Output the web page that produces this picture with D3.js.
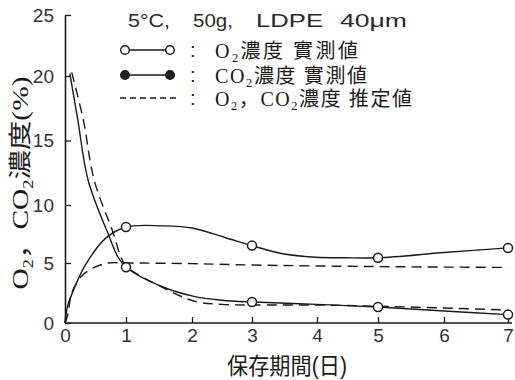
<!DOCTYPE html>
<html>
<head>
<meta charset="utf-8">
<script src="https://cdn.jsdelivr.net/npm/d3@7"></script>
<style>
  body { margin: 0; background: #fff; }
  svg { display: block; }
</style>
</head>
<body>
<svg id="chart" width="515" height="380"></svg>
<script>
// O2 / CO2 concentration in package, 5°C, 50g, LDPE 40um

var xTicks = [0, 1, 2, 3, 4, 5, 6, 7];
var yTicks = [0, 5, 10, 15, 20, 25];

// measured points (days 1,3,5,7)
var measuredDays = [1, 3, 5, 7];
var o2Measured = [4.65, 1.75, 1.33, 0.7];
var co2Measured = [8.1, 6.5, 5.45, 6.3];

var o2CurveDays = [0.08, 0.21, 0.38, 0.7, 0.87, 1, 1.56, 2.05, 2.5, 3, 4, 5, 6, 7];
var o2CurveVals = [20.2, 16.6, 11.9, 7.6, 5.5, 4.65, 3.0, 2.2, 1.9, 1.75, 1.55, 1.33, 1.0, 0.7];
var co2CurveDays = [0, 0.04, 0.14, 0.33, 0.66, 1, 1.56, 2.02, 2.55, 3, 3.47, 3.98, 4.46, 5, 6, 7];
var co2CurveVals = [0, 1.35, 2.75, 4.8, 7.1, 8.1, 8.2, 8.0, 7.2, 6.5, 5.8, 5.5, 5.45, 5.45, 5.9, 6.3];

// estimated values (dashed)
var o2EstDays = [0.11, 0.3, 0.48, 0.79, 0.91, 1, 1.56, 2.05, 2.5, 3, 4, 5, 6, 7];
var o2EstVals = [20.3, 16.6, 11.9, 7.6, 5.6, 4.75, 2.95, 1.8, 1.55, 1.5, 1.5, 1.4, 1.25, 1.08];
var co2EstDays = [0, 0.05, 0.11, 0.27, 0.49, 0.71, 1, 2, 3, 5, 7];
var co2EstVals = [0, 0.8, 2.5, 3.9, 4.65, 5.0, 5.0, 4.95, 4.83, 4.7, 4.63];

var titleParts = ["5°C,", "50g,", "LDPE", "40μm"];
var legendLabels = ["O₂濃度 實測値", "CO₂濃度 實測値", "O₂，CO₂濃度 推定値"];
var xLabel = "保存期間(日)";
var yLabel = "O₂，CO₂濃度(%)";

var ink = "#1a1a1a";
var serifCJK = "'Liberation Serif', 'Noto Sans CJK JP', serif";
var sansCJK = "'Liberation Sans', 'Noto Sans CJK JP', sans-serif";

var svg = d3.select("#chart");

// the figure's hand-drawn axes are slightly uneven, so map to the tick positions
var x = d3.scaleLinear().domain(xTicks).range([65, 126, 192, 252, 317, 378, 444, 508]);
var y = d3.scaleLinear().domain([0, 5, 10, 20, 25]).range([323, 263, 205, 76, 15]);

// put text with "₂" subscripts into a text element
var richText = function (sel, str, size) {
  var chunks = str.split("₂");
  var shift = size * 0.22;
  chunks.forEach(function (c, i) {
    if (i > 0) {
      sel.append("tspan").attr("font-size", size * 0.62).attr("dy", shift).text("2");
      sel.append("tspan").attr("dy", -shift).text(c);
    } else {
      sel.append("tspan").text(c);
    }
  });
  return sel;
};

///////////////////////////////////////////////////////////////////////////////
// Axes

var xAxis = d3.axisBottom(x).tickValues(xTicks).tickSizeInner(-6).tickSizeOuter(0)
  .tickPadding(6).tickFormat(d3.format("d"));
var yAxis = d3.axisLeft(y).tickValues(yTicks).tickSizeInner(-6).tickSizeOuter(0)
  .tickPadding(11).tickFormat(d3.format("d"));

var gx = svg.append("g").attr("transform", "translate(0," + y(0) + ")").call(xAxis);
var gy = svg.append("g").attr("transform", "translate(" + x(0) + ",0)").call(yAxis);

[gx, gy].forEach(function (g) {
  g.select(".domain").attr("stroke", ink).attr("stroke-width", 1.6);
  g.selectAll(".tick line").attr("stroke", ink).attr("stroke-width", 1.3);
  g.selectAll(".tick text").attr("fill", "#333")
    .attr("font-family", "'Liberation Sans', Arial, sans-serif").attr("font-size", 19);
});
gx.select(".domain").attr("d", "M" + x(0) + ",0H512");

///////////////////////////////////////////////////////////////////////////////
// Curves

var line = d3.line()
  .x(function (d) { return x(d[0]); })
  .y(function (d) { return y(d[1]); })
  .curve(d3.curveCatmullRom.alpha(0.5));

var curves = [
  {days: o2EstDays, vals: o2EstVals, dash: "10,6"},
  {days: co2EstDays, vals: co2EstVals, dash: "10,6"},
  {days: o2CurveDays, vals: o2CurveVals, dash: null},
  {days: co2CurveDays, vals: co2CurveVals, dash: null}
];

svg.append("g").selectAll("path").data(curves).enter().append("path")
  .attr("d", function (c) { return line(d3.zip(c.days, c.vals)); })
  .attr("fill", "none")
  .attr("stroke", ink)
  .attr("stroke-width", 1.4)
  .attr("stroke-dasharray", function (c) { return c.dash; });

var points = d3.zip(measuredDays, o2Measured).concat(d3.zip(measuredDays, co2Measured));
svg.append("g").selectAll("circle").data(points).enter().append("circle")
  .attr("cx", function (d) { return x(d[0]); })
  .attr("cy", function (d) { return y(d[1]); })
  .attr("r", 4.5)
  .attr("fill", "#fff")
  .attr("stroke", ink)
  .attr("stroke-width", 1.5);

///////////////////////////////////////////////////////////////////////////////
// Title and legend

var titleX = [128, 193, 256, 340];
var titleW = [42, 40, 67, 67];
svg.append("g").selectAll("text").data(titleParts).enter().append("text")
  .attr("x", function (d, i) { return titleX[i]; })
  .attr("y", 27)
  .attr("textLength", function (d, i) { return titleW[i]; })
  .attr("lengthAdjust", "spacingAndGlyphs")
  .attr("font-family", "'Liberation Sans', Arial, sans-serif")
  .attr("font-size", 18.5)
  .attr("fill", "#2a2a2a")
  .text(function (d) { return d; });

var legendY = [50, 75, 98];
var legendW = [143, 152, 197];
var leg = svg.append("g");

legendLabels.forEach(function (label, i) {
  var ly = legendY[i];
  if (i < 2) {
    leg.append("line").attr("x1", 125).attr("x2", 170).attr("y1", ly).attr("y2", ly)
      .attr("stroke", ink).attr("stroke-width", 1.4);
    [125, 170].forEach(function (cx) {
      leg.append("circle").attr("cx", cx).attr("cy", ly).attr("r", 4.3)
        .attr("fill", i === 0 ? "#fff" : "#222")
        .attr("stroke", ink).attr("stroke-width", 1.5);
    });
  } else {
    leg.append("line").attr("x1", 120).attr("x2", 180).attr("y1", ly).attr("y2", ly)
      .attr("stroke", ink).attr("stroke-width", 1.3).attr("stroke-dasharray", "6,4");
  }
  leg.append("text").attr("x", 190).attr("y", ly + 7)
    .attr("font-family", sansCJK).attr("font-size", 20).attr("fill", ink).text(":");
  var t = leg.append("text").attr("x", 215).attr("y", ly + 8)
    .attr("textLength", legendW[i]).attr("lengthAdjust", "spacing")
    .attr("font-family", serifCJK).attr("font-size", 20).attr("fill", ink);
  richText(t, label, 20);
});

///////////////////////////////////////////////////////////////////////////////
// Axis titles

svg.append("text")
  .attr("x", 287).attr("y", 374)
  .attr("text-anchor", "middle")
  .attr("textLength", 120).attr("lengthAdjust", "spacingAndGlyphs")
  .attr("font-family", sansCJK).attr("font-size", 23).attr("fill", ink)
  .text(xLabel);

var yl = svg.append("text")
  .attr("transform", "translate(28,183) rotate(-90)")
  .attr("text-anchor", "middle")
  .attr("textLength", 213).attr("lengthAdjust", "spacingAndGlyphs")
  .attr("font-family", serifCJK).attr("font-size", 23).attr("fill", ink);
richText(yl, yLabel, 23);
</script>
</body>
</html>
